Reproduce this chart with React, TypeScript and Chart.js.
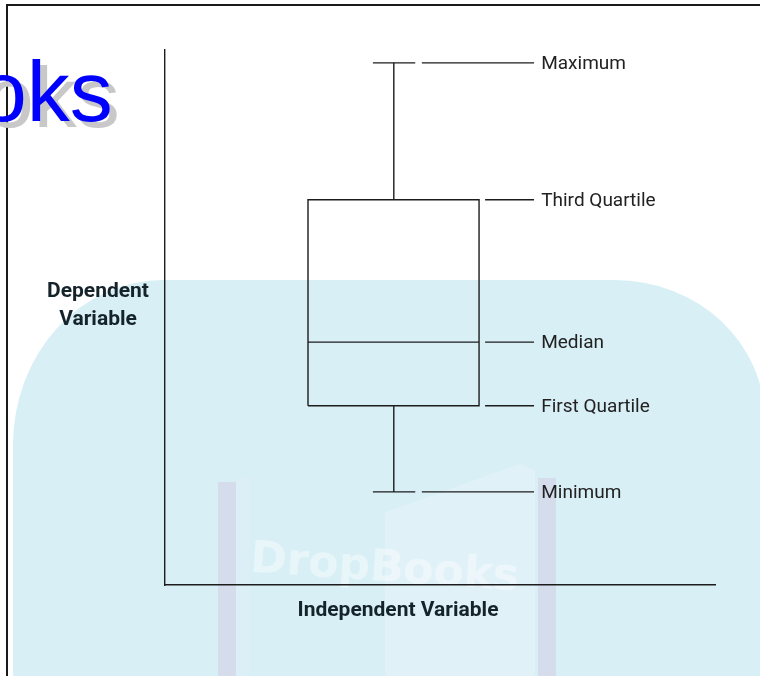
import React, { useEffect, useRef } from "react";
import { Chart, registerables } from "chart.js";

Chart.register(...registerables);

// ---- data ----
const statLabels = ["Maximum", "Third Quartile", "Median", "First Quartile", "Minimum"];
const statValues = [97.6, 72.0, 45.4, 33.5, 17.4];
const yAxisTitle = ["Dependent", "Variable"];
const xAxisTitle = "Independent Variable";

// ---- layout (x positions in axis units 0..100) ----
const X_RANGE = [0, 100];
const Y_RANGE = [0, 100];
const BOX_LEFT = 26.0;
const BOX_RIGHT = 57.1;
const WHISKER_X = 41.6;
const CAP_LEFT = 37.8;
const CAP_RIGHT = 45.5;
const EXTREME_LEADER_START = 46.7;
const QUARTILE_LEADER_START = 58.2;
const LEADER_END = 67.1;
const LABEL_X = 68.4;

const LINE_COLOR = "#1c1c1c";
const LABEL_COLOR = "#222222";
const TITLE_COLOR = "#15232b";

function seg(points: { x: number; y: number }[]) {
  return {
    data: points,
    showLine: true,
    borderColor: LINE_COLOR,
    borderWidth: 1.4,
    pointRadius: 0,
    pointHoverRadius: 0,
    fill: false,
    tension: 0,
  };
}

const annotate = {
  id: "annotate",
  afterDatasetsDraw(chart: any) {
    const { ctx, chartArea, scales } = chart;
    const x = scales.x;
    const y = scales.y;
    ctx.save();
    ctx.fillStyle = LABEL_COLOR;
    ctx.font = "19px Roboto";
    ctx.textBaseline = "middle";
    ctx.textAlign = "left";
    statLabels.forEach((t, i) => {
      ctx.fillText(t, x.getPixelForValue(LABEL_X), y.getPixelForValue(statValues[i]) + 1);
    });
    ctx.font = "bold 21px Roboto";
    ctx.fillStyle = TITLE_COLOR;
    ctx.textAlign = "center";
    yAxisTitle.forEach((t, i) => {
      ctx.fillText(t, chartArea.left - 67, chartArea.top + 242 + i * 28);
    });
    ctx.fillText(xAxisTitle, chartArea.left + 233, chartArea.bottom + 26);
    ctx.restore();
  },
};

export default function App() {
  const canvasRef = useRef<HTMLCanvasElement | null>(null);

  useEffect(() => {
    const canvas = canvasRef.current;
    if (!canvas) return;
    const [maxV, q3, med, q1, minV] = statValues;
    const datasets: any[] = [
      seg([
        { x: BOX_LEFT, y: q1 },
        { x: BOX_RIGHT, y: q1 },
        { x: BOX_RIGHT, y: q3 },
        { x: BOX_LEFT, y: q3 },
        { x: BOX_LEFT, y: q1 },
      ]),
      seg([
        { x: BOX_LEFT, y: med },
        { x: BOX_RIGHT, y: med },
      ]),
      seg([
        { x: WHISKER_X, y: q3 },
        { x: WHISKER_X, y: maxV },
      ]),
      seg([
        { x: WHISKER_X, y: q1 },
        { x: WHISKER_X, y: minV },
      ]),
      seg([
        { x: CAP_LEFT, y: maxV },
        { x: CAP_RIGHT, y: maxV },
      ]),
      seg([
        { x: CAP_LEFT, y: minV },
        { x: CAP_RIGHT, y: minV },
      ]),
    ];
    statValues.forEach((v, i) => {
      const start = i === 0 || i === statValues.length - 1 ? EXTREME_LEADER_START : QUARTILE_LEADER_START;
      datasets.push(
        seg([
          { x: start, y: v },
          { x: LEADER_END, y: v },
        ])
      );
    });

    const chart = new Chart(canvas, {
      type: "scatter",
      data: { datasets },
      plugins: [annotate],
      options: {
        animation: false,
        responsive: false,
        devicePixelRatio: 1,
        events: [],
        layout: { padding: { left: 165, top: 50, right: 45, bottom: 91 } },
        plugins: { legend: { display: false }, tooltip: { enabled: false } },
        scales: {
          x: {
            type: "linear",
            min: X_RANGE[0],
            max: X_RANGE[1],
            grid: { display: false, drawTicks: false },
            ticks: { display: false },
            border: { display: true, color: LINE_COLOR, width: 1.4 },
            afterFit: (s: any) => {
              s.height = 0;
            },
          },
          y: {
            type: "linear",
            min: Y_RANGE[0],
            max: Y_RANGE[1],
            grid: { display: false, drawTicks: false },
            ticks: { display: false },
            border: { display: true, color: LINE_COLOR, width: 1.4 },
            afterFit: (s: any) => {
              s.width = 0;
            },
          },
        },
      },
    } as any);
    return () => chart.destroy();
  }, []);

  return (
    <div
      style={{
        position: "absolute",
        left: 0,
        top: 0,
        width: 760,
        height: 676,
        overflow: "hidden",
        background: "#ffffff",
      }}
    >
      {/* light blue backdrop */}
      <div
        style={{
          position: "absolute",
          left: 13,
          top: 280,
          width: 752,
          height: 520,
          background: "#d8eff6",
          borderTopLeftRadius: "150px 165px",
          borderTopRightRadius: "150px 140px",
        }}
      />
      {/* faint book */}
      <div style={{ position: "absolute", left: 218, top: 482, width: 18, height: 200, background: "rgba(210,190,218,0.35)" }} />
      <div style={{ position: "absolute", left: 236, top: 478, width: 14, height: 200, background: "rgba(225,240,246,0.5)" }} />
      <div style={{ position: "absolute", left: 538, top: 478, width: 18, height: 200, background: "rgba(210,190,218,0.35)" }} />
      <div
        style={{
          position: "absolute",
          left: 385,
          top: 464,
          width: 150,
          height: 220,
          background: "rgba(255,255,255,0.22)",
          clipPath: "polygon(0% 22%, 90% 0%, 100% 3%, 100% 100%, 0% 100%)",
        }}
      />
      <div
        style={{
          position: "absolute",
          left: 250,
          top: 540,
          fontFamily: "'DejaVu Sans', sans-serif",
          fontWeight: 700,
          fontSize: 44,
          color: "rgba(255,255,255,0.45)",
          whiteSpace: "nowrap",
          transform: "rotate(4deg)",
        }}
      >
        DropBooks
      </div>
      {/* frame */}
      <div
        style={{
          position: "absolute",
          left: 6,
          top: 4,
          width: 900,
          height: 900,
          borderTop: "2px solid #1a1a1a",
          borderLeft: "2px solid #1a1a1a",
        }}
      />
      <div
        style={{
          position: "absolute",
          left: -21,
          top: 48,
          fontFamily: "'Liberation Sans', Arial, sans-serif",
          fontSize: 86,
          lineHeight: "86px",
          color: "#0000ff",
          textShadow: "7px 6px 0 #c8c8c8",
          whiteSpace: "nowrap",
        }}
      >
        oks
      </div>
      <canvas
        ref={canvasRef}
        width={760}
        height={676}
        style={{ position: "absolute", left: 0, top: 0, width: 760, height: 676 }}
      />
    </div>
  );
}
